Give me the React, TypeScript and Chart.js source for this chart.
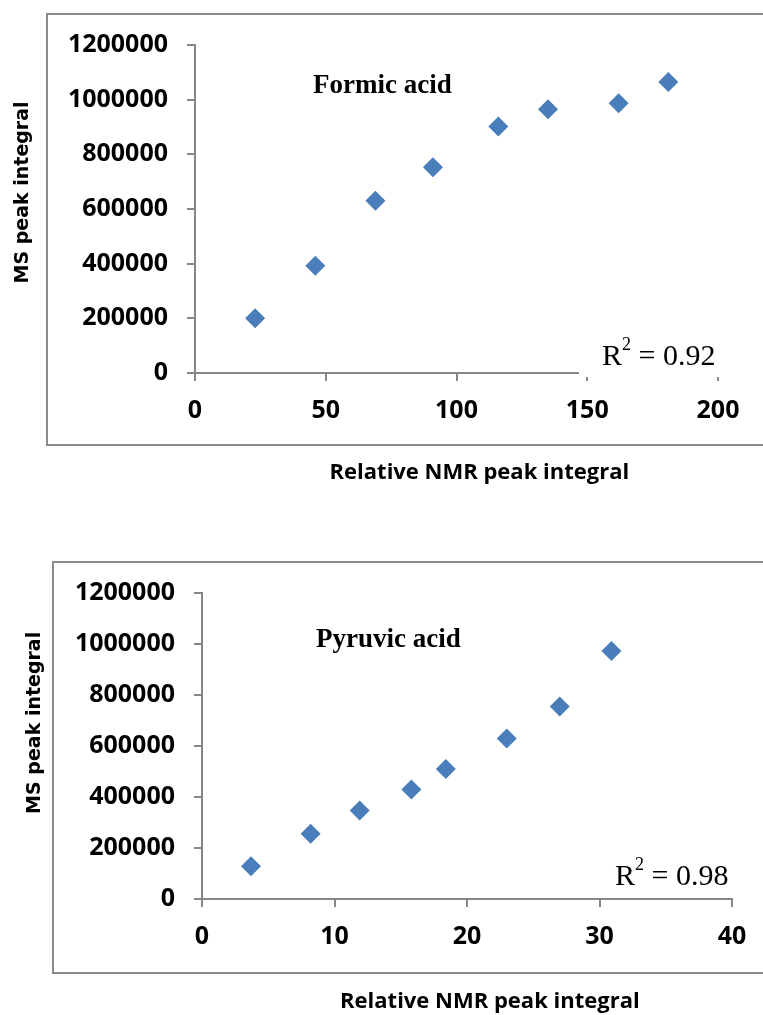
import React, { useEffect, useRef } from "react";
import { Chart, registerables } from "chart.js";

Chart.register(...registerables);

// ---- Data ----
const formicNmr = [23, 46, 69, 91, 116, 135, 162, 181];
const formicMs = [200000, 392000, 630000, 753000, 902000, 965000, 987000, 1065000];
const pyruvicNmr = [3.7, 8.2, 11.9, 15.8, 18.4, 23.0, 27.0, 30.9];
const pyruvicMs = [128000, 256000, 347000, 429000, 510000, 629000, 755000, 973000];
const msTicks = [0, 200000, 400000, 600000, 800000, 1000000, 1200000];
const formicNmrTicks = [0, 50, 100, 150, 200];
const pyruvicNmrTicks = [0, 10, 20, 30, 40];
const xAxisTitle = "Relative NMR peak integral";
const yAxisTitle = "MS peak integral";
const formicName = "Formic acid";
const pyruvicName = "Pyruvic acid";
const formicR2 = "0.92";
const pyruvicR2 = "0.98";

const BLUE = "#4a7ebb";
const AXIS = "#868686";
const tickFont = { family: "'Open Sans', sans-serif", size: 25, weight: "bold" as const };
const xTitleFont = { family: "'Open Sans', sans-serif", size: 22, weight: "bold" as const };
const yTitleFont = { family: "'DejaVu Sans', sans-serif", size: 19, weight: "bold" as const };

type P = {
  xs: number[]; ys: number[]; xTicks: number[];
  w: number; h: number; left: number; top: number; right: number; bottom: number;
  xTitlePad: number; yTitlePad: number; xShift: number; yShift: number;
};

function buildConfig(p: P): any {
  return {
    type: "scatter",
    data: {
      datasets: [
        {
          data: p.xs.map((x, i) => ({ x, y: p.ys[i] })),
          pointStyle: "rectRot",
          pointRadius: 10,
          pointHoverRadius: 10,
          backgroundColor: BLUE,
          borderColor: BLUE,
          borderWidth: 0,
        },
      ],
    },
    options: {
      responsive: false,
      animation: false,
      devicePixelRatio: 1,
      events: [],
      layout: { padding: { top: p.top, right: p.w - p.right, bottom: 0, left: 0 } },
      plugins: { legend: { display: false }, tooltip: { enabled: false } },
      scales: {
        x: {
          type: "linear",
          position: "bottom",
          min: p.xTicks[0],
          max: p.xTicks[p.xTicks.length - 1],
          afterBuildTicks: (s: any) => { s.ticks = p.xTicks.map((v) => ({ value: v })); },
          afterFit: (s: any) => { s.height = p.h - p.bottom; },
          grid: { drawOnChartArea: false, drawTicks: true, tickLength: 8, color: AXIS, lineWidth: 2 },
          border: { display: true, color: AXIS, width: 2 },
          ticks: { font: tickFont, color: "#000", padding: 15, maxRotation: 0, autoSkip: false, callback: (v: any) => String(v) },
          title: {
            display: true,
            text: " ".repeat(p.xShift) + xAxisTitle,
            font: xTitleFont,
            color: "#000",
            padding: { top: 0, bottom: p.xTitlePad },
          },
        },
        y: {
          type: "linear",
          position: "left",
          min: msTicks[0],
          max: msTicks[msTicks.length - 1],
          afterBuildTicks: (s: any) => { s.ticks = msTicks.map((v) => ({ value: v })); },
          afterFit: (s: any) => { s.width = p.left; },
          grid: { drawOnChartArea: false, drawTicks: true, tickLength: 8, color: AXIS, lineWidth: 2 },
          border: { display: true, color: AXIS, width: 2 },
          ticks: { font: tickFont, color: "#000", padding: 19, autoSkip: false, callback: (v: any) => String(v) },
          title: {
            display: true,
            text: " ".repeat(p.yShift) + yAxisTitle,
            font: yTitleFont,
            color: "#000",
            padding: { top: p.yTitlePad, bottom: 0 },
          },
        },
      },
    },
  };
}

function ScatterCanvas({ p, top }: { p: P; top: number }) {
  const ref = useRef<HTMLCanvasElement>(null);
  useEffect(() => {
    if (!ref.current) return;
    const chart = new Chart(ref.current, buildConfig(p));
    return () => chart.destroy();
  }, []);
  return (
    <canvas
      ref={ref}
      width={p.w}
      height={p.h}
      style={{ position: "absolute", left: 0, top, width: p.w, height: p.h }}
    />
  );
}

const serif = "'Liberation Serif', 'Times New Roman', serif";

function R2({ left, top, value, box }: { left: number; top: number; value: string; box?: any }) {
  return (
    <>
      {box && <div style={{ position: "absolute", background: "#fff", ...box }} />}
      <div
        style={{
          position: "absolute",
          left,
          top,
          fontFamily: serif,
          fontSize: 30,
          lineHeight: "30px",
          whiteSpace: "nowrap",
          color: "#000",
        }}
      >
        R<span style={{ fontSize: 18, position: "relative", top: -15 }}>2</span> = {value}
      </div>
    </>
  );
}

function Label({ left, top, text }: { left: number; top: number; text: string }) {
  return (
    <div
      style={{
        position: "absolute",
        left,
        top,
        fontFamily: serif,
        fontWeight: "bold",
        fontSize: 27,
        lineHeight: "27px",
        whiteSpace: "nowrap",
        color: "#000",
      }}
    >
      {text}
    </div>
  );
}

export default function App() {
  const p1: P = {
    xs: formicNmr, ys: formicMs, xTicks: formicNmrTicks,
    w: 763, h: 500, left: 195, top: 45, right: 718, bottom: 373,
    xTitlePad: 13.8, yTitlePad: 11.6, xShift: 8, yShift: 5,
  };
  const p2: P = {
    xs: pyruvicNmr, ys: pyruvicMs, xTicks: pyruvicNmrTicks,
    w: 763, h: 495, left: 202, top: 73, right: 732, bottom: 379,
    xTitlePad: 0.5, yTitlePad: 23.6, xShift: 8, yShift: 7,
  };
  return (
    <div
      style={{
        position: "absolute",
        left: 0,
        top: 0,
        width: 763,
        height: 1015,
        overflow: "hidden",
        background: "#fff",
      }}
    >
      <div style={{ position: "absolute", left: 46, top: 13, width: 800, height: 429, border: "2px solid #8c8c8c" }} />
      <div style={{ position: "absolute", left: 52, top: 561, width: 800, height: 409, border: "2px solid #8c8c8c" }} />
      <ScatterCanvas p={p1} top={0} />
      <ScatterCanvas p={p2} top={520} />
      <Label left={313} top={71} text={formicName} />
      <Label left={316} top={625} text={pyruvicName} />
      <R2 left={602} top={340} value={formicR2} box={{ left: 579, top: 335, width: 170, height: 42 }} />
      <R2 left={615} top={860} value={pyruvicR2} />
    </div>
  );
}
